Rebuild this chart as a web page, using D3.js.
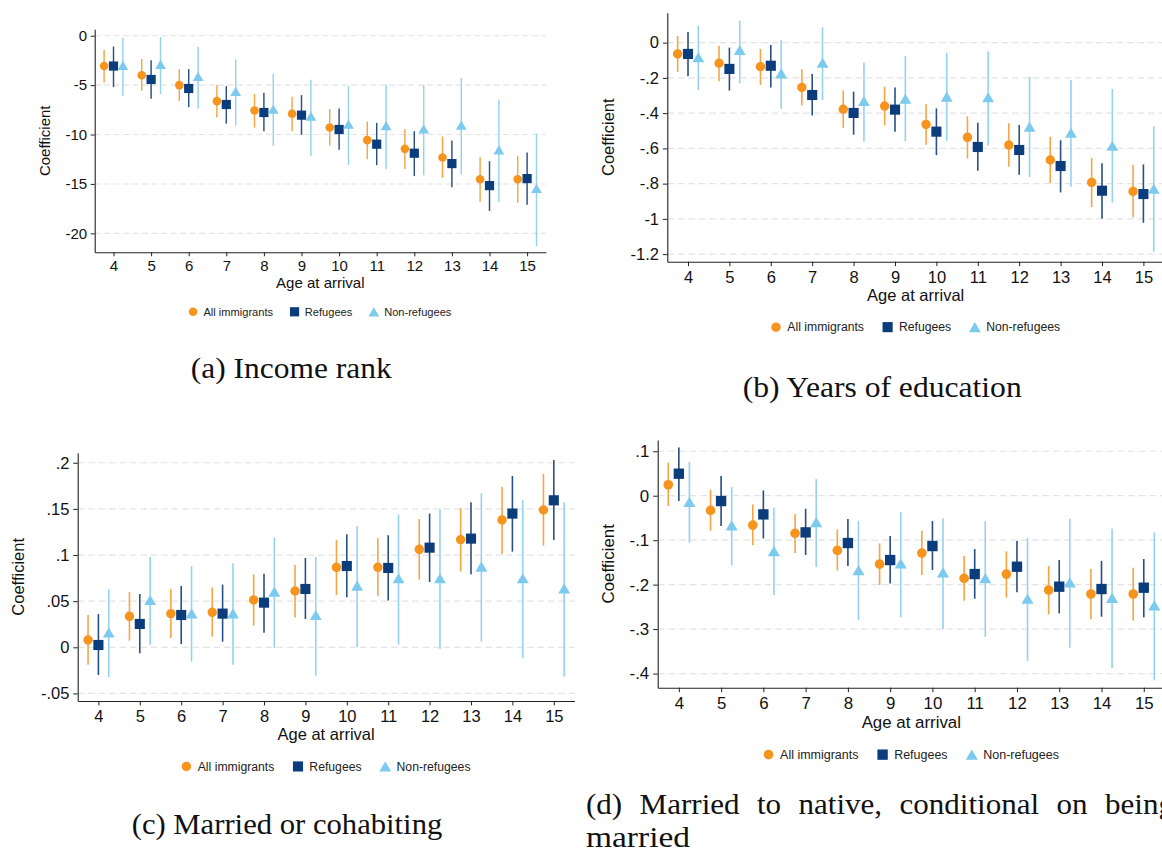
<!DOCTYPE html>
<html>
<head>
<meta charset="utf-8">
<script src="https://cdn.jsdelivr.net/npm/d3@7"></script>
<style>
  body { margin: 0; background: #fff; }
  svg { display: block; font-family: "Liberation Sans", Arial, sans-serif; }
  .caption { font-family: "Liberation Serif", "Times New Roman", serif; fill: #111; }
</style>
</head>
<body>
<div id="chart"></div>
<script>
const ages = [4, 5, 6, 7, 8, 9, 10, 11, 12, 13, 14, 15];
const seriesNames = ["All immigrants", "Refugees", "Non-refugees"];

// each row: [coefficient, upper CI, lower CI], one row per age at arrival
const incomeAll = [[-3.07, -1.45, -4.73], [-4.0, -2.36, -5.57], [-5.0, -3.38, -6.6], [-6.62, -5.0, -8.28], [-7.57, -5.9, -9.29], [-7.9, -6.18, -9.66], [-9.29, -7.43, -11.11], [-10.57, -8.68, -12.5], [-11.45, -9.46, -13.48], [-12.33, -10.2, -14.39], [-14.53, -12.3, -16.8], [-14.53, -12.16, -16.9]];
const incomeRef = [[-3.07, -1.1, -5.2], [-4.43, -2.47, -6.39], [-5.34, -3.38, -7.23], [-6.96, -5.1, -8.9], [-7.77, -5.78, -9.66], [-8.04, -6.01, -10.03], [-9.49, -7.36, -11.55], [-10.98, -8.82, -13.1], [-11.89, -9.66, -14.19], [-12.94, -10.6, -15.34], [-15.17, -12.7, -17.74], [-14.46, -11.82, -17.1]];
const incomeNon = [[-3.0, -0.24, -6.1], [-2.9, -0.14, -5.9], [-4.12, -1.15, -7.4], [-5.64, -2.4, -9.09], [-7.43, -3.85, -11.15], [-8.14, -4.46, -12.16], [-8.95, -5.1, -13.07], [-9.09, -4.93, -13.48], [-9.43, -5.0, -14.12], [-9.05, -4.29, -14.05], [-11.55, -6.45, -16.82], [-15.44, -9.9, -21.28]];

const eduAll = [[-0.064, 0.038, -0.166], [-0.117, -0.017, -0.219], [-0.136, -0.036, -0.24], [-0.254, -0.151, -0.356], [-0.378, -0.271, -0.483], [-0.36, -0.25, -0.469], [-0.464, -0.35, -0.579], [-0.537, -0.418, -0.657], [-0.581, -0.458, -0.704], [-0.666, -0.534, -0.797], [-0.793, -0.653, -0.933], [-0.844, -0.694, -0.991]];
const eduRef = [[-0.064, 0.061, -0.191], [-0.149, -0.028, -0.272], [-0.131, -0.013, -0.254], [-0.297, -0.178, -0.414], [-0.399, -0.278, -0.522], [-0.38, -0.254, -0.505], [-0.505, -0.373, -0.638], [-0.592, -0.454, -0.727], [-0.609, -0.467, -0.749], [-0.7, -0.554, -0.85], [-0.84, -0.685, -0.999], [-0.859, -0.691, -1.022]];
const eduNon = [[-0.083, 0.095, -0.269], [-0.042, 0.125, -0.231], [-0.174, 0.013, -0.375], [-0.114, 0.087, -0.327], [-0.331, -0.112, -0.562], [-0.318, -0.076, -0.56], [-0.306, -0.057, -0.556], [-0.31, -0.049, -0.585], [-0.477, -0.193, -0.763], [-0.511, -0.212, -0.817], [-0.585, -0.263, -0.908], [-0.829, -0.475, -1.186]];

const marAll = [[0.0079, 0.035, -0.019], [0.0336, 0.06, 0.0072], [0.0365, 0.0629, 0.0101], [0.0379, 0.0647, 0.0116], [0.0513, 0.079, 0.0235], [0.061, 0.0892, 0.0322], [0.0867, 0.1163, 0.0567], [0.0867, 0.1181, 0.056], [0.1062, 0.1391, 0.0733], [0.1167, 0.151, 0.082], [0.138, 0.1741, 0.1012], [0.1488, 0.1879, 0.1102]];
const marRef = [[0.0025, 0.036, -0.03], [0.0253, 0.0578, -0.0065], [0.035, 0.0665, 0.0036], [0.0365, 0.068, 0.0061], [0.0484, 0.0798, 0.0159], [0.0632, 0.0968, 0.0307], [0.0881, 0.1225, 0.0542], [0.086, 0.1214, 0.0506], [0.108, 0.1449, 0.0708], [0.1178, 0.1572, 0.0791], [0.1449, 0.1857, 0.1037], [0.1593, 0.203, 0.1163]];
const marNon = [[0.016, 0.063, -0.0325], [0.0513, 0.0979, 0.0025], [0.0368, 0.088, -0.0155], [0.0368, 0.091, -0.019], [0.0603, 0.1189, -0.001], [0.035, 0.0979, -0.0307], [0.0668, 0.1315, 0.0], [0.0748, 0.1438, 0.0029], [0.0748, 0.1496, -0.0018], [0.0874, 0.1669, 0.0061], [0.0748, 0.1593, -0.0119], [0.0639, 0.1568, -0.0318]];

const natAll = [[0.0247, 0.0742, -0.0232], [-0.033, 0.0135, -0.0787], [-0.066, -0.0195, -0.111], [-0.0847, -0.0412, -0.129], [-0.123, -0.0757, -0.168], [-0.1537, -0.1072, -0.2009], [-0.129, -0.079, -0.1784], [-0.1859, -0.1357, -0.2361], [-0.1762, -0.1252, -0.2294], [-0.2121, -0.1582, -0.2669], [-0.2211, -0.1649, -0.2781], [-0.2211, -0.1619, -0.2811]];
const natRef = [[0.0495, 0.1087, -0.012], [-0.012, 0.0442, -0.0682], [-0.042, 0.012, -0.096], [-0.0825, -0.0292, -0.1334], [-0.1064, -0.0525, -0.1582], [-0.1447, -0.0907, -0.1972], [-0.1132, -0.057, -0.1672], [-0.1762, -0.12, -0.2316], [-0.1597, -0.1019, -0.2174], [-0.2046, -0.1447, -0.2646], [-0.2099, -0.1469, -0.2721], [-0.2069, -0.1424, -0.2736]];
const natNon = [[-0.014, 0.0757, -0.1057], [-0.0667, 0.0195, -0.1567], [-0.1244, -0.027, -0.2234], [-0.0592, 0.0375, -0.1604], [-0.1672, -0.057, -0.2796], [-0.1522, -0.036, -0.2736], [-0.1724, -0.051, -0.2999], [-0.1852, -0.057, -0.3171], [-0.2316, -0.0952, -0.3718], [-0.1949, -0.0517, -0.3418], [-0.2294, -0.0742, -0.3876], [-0.2466, -0.0825, -0.4153]];

const ticksIncome = [0, -5, -10, -15, -20];
const ticksEdu = [0, -0.2, -0.4, -0.6, -0.8, -1, -1.2];
const ticksMar = [0.2, 0.15, 0.1, 0.05, 0, -0.05];
const ticksNat = [0.1, 0, -0.1, -0.2, -0.3, -0.4];

const COLORS = ["#f7941d", "#0b3c7b", "#7ccaee"];
const CI_COLORS = ["#f8a443", "#284f86", "#93d3f0"];
const OFFSETS = [-0.25, 0, 0.25];

// Stata style labels: no leading zero
const stataFmt = (v) => String(v).replace("0.", ".");

const W = 1162, H = 853;
const svg = d3.select("#chart").append("svg").attr("width", W).attr("height", H);
svg.append("rect").attr("width", W).attr("height", H).attr("fill", "#fff");

const panels = [
  { series: [incomeAll, incomeRef, incomeNon], ticks: ticksIncome, left: 94.7, right: 545.9, top: 29.3, bottom: 252.3, yDomain: [-21.92, 0.65], s: 1, titleX: 45 },
  { series: [eduAll, eduRef, eduNon], ticks: ticksEdu, left: 667.3, right: 1164.1, top: 12.7, bottom: 261.7, yDomain: [-1.243, 0.17], s: 1.1, titleX: 608.3 },
  { series: [marAll, marRef, marNon], ticks: ticksMar, left: 77.7, right: 574.5, top: 452.7, bottom: 701, yDomain: [-0.0582, 0.2109], s: 1.1, titleX: 18.3 },
  { series: [natAll, natRef, natNon], ticks: ticksNat, left: 657.7, right: 1164.9, top: 440, bottom: 687.7, yDomain: [-0.4318, 0.1253], s: 1.125, titleX: 607.7 },
];

function markerPath(kind, s) {
  if (kind === 0) {
    const r = 4.3 * s;
    return `M${-r},0A${r},${r} 0 1,0 ${r},0A${r},${r} 0 1,0 ${-r},0Z`;
  }
  if (kind === 1) {
    const h = 4.6 * s;
    return `M${-h},${-h}H${h}V${h}H${-h}Z`;
  }
  const w = 5.4 * s, h = 4.6 * s;
  return `M0,${-h}L${w},${h}L${-w},${h}Z`;
}

function drawPanel(cfg) {
  const s = cfg.s;
  const g = svg.append("g");
  const x = d3.scaleLinear().domain([3.5, 15.5]).range([cfg.left, cfg.right]);
  const y = d3.scaleLinear().domain(cfg.yDomain).range([cfg.bottom, cfg.top]);

  g.append("g")
    .selectAll("line")
    .data(cfg.ticks)
    .join("line")
    .attr("x1", cfg.left)
    .attr("x2", cfg.right)
    .attr("y1", (d) => y(d))
    .attr("y2", (d) => y(d))
    .attr("stroke", "#e4e4e4")
    .attr("stroke-width", 1.1 * s)
    .attr("stroke-dasharray", `${6 * s} ${3.5 * s}`);

  const yAxis = g
    .append("g")
    .attr("transform", `translate(${cfg.left},0)`)
    .call(d3.axisLeft(y).tickValues(cfg.ticks).tickFormat(stataFmt).tickSize(4 * s).tickSizeOuter(0).tickPadding(3.5 * s));

  const xAxis = g
    .append("g")
    .attr("transform", `translate(0,${cfg.bottom})`)
    .call(d3.axisBottom(x).tickValues(ages).tickFormat(d3.format("d")).tickSize(4 * s).tickSizeOuter(0).tickPadding(4.5 * s));

  [yAxis, xAxis].forEach((ax) => {
    ax.select(".domain").attr("stroke", "#222").attr("stroke-width", 1.1);
    ax.selectAll(".tick line").attr("stroke", "#222");
    ax.selectAll(".tick text").attr("fill", "#111").style("font-size", `${15 * s}px`).style("font-family", "Liberation Sans, Arial, sans-serif");
  });

  g.append("text")
    .attr("transform", `translate(${cfg.titleX},${(cfg.top + cfg.bottom) / 2}) rotate(-90)`)
    .attr("text-anchor", "middle")
    .attr("dy", "0.35em")
    .attr("fill", "#111")
    .style("font-size", `${15 * s}px`)
    .text("Coefficient");

  g.append("text")
    .attr("x", (cfg.left + cfg.right) / 2)
    .attr("y", cfg.bottom + 35.5 * s)
    .attr("text-anchor", "middle")
    .attr("fill", "#111")
    .style("font-size", `${15 * s}px`)
    .text("Age at arrival");

  // confidence intervals first, then markers
  cfg.series.forEach((rows, k) => {
    g.append("g")
      .selectAll("line")
      .data(rows)
      .join("line")
      .attr("x1", (d, i) => x(ages[i] + OFFSETS[k]))
      .attr("x2", (d, i) => x(ages[i] + OFFSETS[k]))
      .attr("y1", (d) => y(d[1]))
      .attr("y2", (d) => y(d[2]))
      .attr("stroke", CI_COLORS[k])
      .attr("stroke-width", 1.45 * s);
  });
  cfg.series.forEach((rows, k) => {
    g.append("g")
      .selectAll("path")
      .data(rows)
      .join("path")
      .attr("transform", (d, i) => `translate(${x(ages[i] + OFFSETS[k])},${y(d[0])})`)
      .attr("d", markerPath(k, s))
      .attr("fill", COLORS[k]);
  });

  // legend centred below the plot
  const legend = g.append("g");
  let cursor = 0;
  seriesNames.forEach((name, k) => {
    const item = legend.append("g");
    item.append("path").attr("transform", `translate(${cursor},0)`).attr("d", markerPath(k, s)).attr("fill", COLORS[k]);
    const t = item
      .append("text")
      .attr("x", cursor + 10.3 * s)
      .attr("dy", "0.35em")
      .attr("fill", "#222")
      .style("font-size", `${11.1 * s}px`)
      .text(name);
    cursor += 10.3 * s + t.node().getComputedTextLength() + 21.5 * s;
  });
  const bb = legend.node().getBBox();
  const cx = (cfg.left + cfg.right) / 2;
  legend.attr("transform", `translate(${cx - bb.x - bb.width / 2},${cfg.bottom + 59.5 * s})`);
}

panels.forEach(drawPanel);

const captions = [
  { text: "(a) Income rank", x: 190.7, y: 378, width: 201 },
  { text: "(b) Years of education", x: 742.7, y: 397, width: 279 },
  { text: "(c) Married or cohabiting", x: 131.7, y: 834, width: 310.6 },
  { text: "married", x: 586, y: 847, width: 104 },
];
captions.forEach((c) => {
  svg.append("text")
    .attr("class", "caption")
    .attr("x", c.x)
    .attr("y", c.y)
    .style("font-size", "29px")
    .attr("textLength", c.width)
    .attr("lengthAdjust", "spacingAndGlyphs")
    .text(c.text);
});

// caption (d) first line is justified across the column and runs past the edge
const dLine = svg.append("text")
  .attr("class", "caption")
  .attr("x", 586)
  .attr("y", 814)
  .style("font-size", "29px")
  .style("word-spacing", "9px")
  .text("(d) Married to native, conditional on being");
dLine.attr("textLength", 1174 - 586).attr("lengthAdjust", "spacingAndGlyphs");
</script>
</body>
</html>
